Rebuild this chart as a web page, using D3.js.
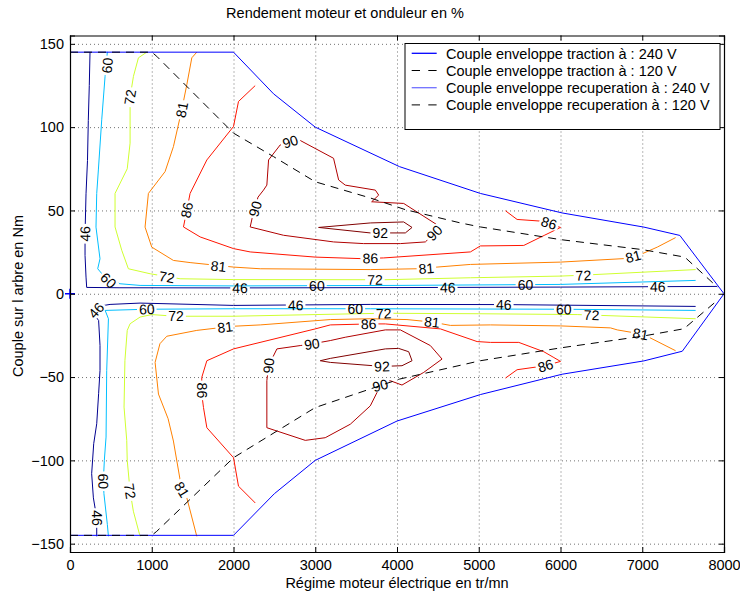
<!DOCTYPE html>
<html>
<head>
<meta charset="utf-8">
<script src="https://cdn.jsdelivr.net/npm/d3@7"></script>
<style>
  body { margin: 0; background: #fff; }
  svg { font-family: "Liberation Sans", Arial, sans-serif; }
</style>
</head>
<body>
<div id="chart"></div>
<script>
const width = 740;
const height = 594;

// axis ticks
const rpmTicks = [0, 1000, 2000, 3000, 4000, 5000, 6000, 7000, 8000];
const torqueTicks = [-150, -100, -50, 0, 50, 100, 150];

// envelopes [rpm, Nm]
const envTraction240 = [[0, 0], [0, 145], [2000, 145], [2490, 120], [3000, 100], [4030, 76.3], [5020, 60.2], [6020, 48.5], [7020, 40], [7460, 35], [8000, 0]];
const envTraction120 = [[0, 145], [1000, 145], [1061, 142.5], [2000, 96.4], [2490, 82.3], [3000, 67.2], [3673, 57.5], [4100, 50.5], [4776, 42.5], [5020, 40.1], [6000, 32.5], [7000, 26.5], [7520, 22], [7918, 4]];
const envRecup240 = [[0, 0], [0, -145], [2000, -145], [2500, -120], [3000, -100], [4000, -76.4], [5020, -60.5], [6020, -48.3], [7020, -40.3], [7490, -34.5], [8000, 0]];
const envRecup120 = [[0, -145], [1000, -145], [1061, -142.6], [2000, -98.4], [3000, -68.3], [4032, -51.2], [5020, -40.2], [6000, -32.5], [7000, -25.5], [7510, -21], [7918, -4]];
const originMark = [0, 0];

// iso-efficiency lines [rpm, Nm]
const iso46Up = [[245, 145], [236, 125], [224, 104], [214, 80], [196, 60], [184, 36], [184, 23], [196, 10], [204, 3.8], [600, 3.6], [2000, 3.5], [4000, 3.7], [6000, 4], [7918, 4.4]];
const iso60Up = [[457, 145.2], [429, 130.5], [388, 104.4], [347, 74.3], [327, 60.2], [318, 40], [367, 21], [339, 15], [408, 11], [470, 8], [612, 6], [857, 5], [2000, 4.7], [4000, 5], [6000, 5.6], [7653, 8]];
const iso72Up = [[939, 145], [837, 141.6], [776, 130.5], [735, 118], [735, 90.4], [700, 75], [551, 60.2], [551, 40.1], [633, 26.1], [714, 15], [980, 12], [1347, 9], [2000, 8.5], [3837, 8.4], [4898, 9.6], [6000, 10.6], [6204, 11], [7653, 14.5]];
const iso81Up = [[1551, 145], [1490, 141.6], [1429, 125.5], [1367, 110.4], [1265, 88.3], [1163, 73.3], [959, 60.2], [918, 40], [1000, 28], [1265, 20], [1469, 18.7], [2000, 16], [2327, 15], [3673, 14.5], [4245, 15], [4490, 16], [4898, 17.6], [6000, 19], [6776, 21.1], [7000, 24], [7184, 28], [7408, 33.7]];
const iso86Up = [[2265, 124.9], [2061, 115.4], [2000, 100.4], [1674, 80.3], [1469, 60.2], [1429, 50.2], [1388, 40.1], [1592, 34.1], [2000, 27.1], [2204, 25.1], [3000, 22], [3551, 21.1], [3837, 21.5], [4898, 25.1], [5020, 28.7], [5551, 29], [5800, 35], [6000, 39.8], [5755, 43.6], [5469, 44.6], [5327, 49.8]];
const iso90Up = [[2204, 40.1], [2240, 48], [2300, 58], [2367, 62.2], [2408, 65.2], [2429, 80.3], [2571, 89.3], [2694, 91.3], [2816, 92], [3224, 81.3], [3286, 68.3], [3367, 65.2], [3735, 62.2], [3776, 59.2], [3690, 55.2], [4082, 54.2], [4531, 40.1], [4347, 31.1], [4041, 30.1], [3592, 30.1], [3224, 31.1], [2612, 35.1], [2204, 40.1]];
const iso92Up = [[3041, 39.8], [3673, 42.5], [4082, 43.1], [4184, 39.8], [4102, 36.5], [3673, 36.5], [3041, 39.8]];

const iso46Down = [[327, -145.6], [327, -134.6], [286, -122.5], [265, -108], [290, -90], [327, -78], [350, -60], [367, -46], [367, -31], [350, -16], [285, -12], [367, -7.4], [490, -6.4], [857, -5.6], [2000, -7], [3673, -6.4], [5306, -6.5], [7653, -7.6]];
const iso60Down = [[470, -145.6], [457, -138.6], [415, -120], [408, -112.5], [420, -100], [441, -86], [449, -46], [470, -15], [430, -10], [939, -9.3], [2000, -9], [3673, -9], [6040, -9.3], [7653, -10]];
const iso72Down = [[857, -145.6], [775, -130.5], [735, -118.5], [700, -100], [694, -88], [661, -68], [672, -40], [700, -22], [735, -18], [857, -14], [1000, -12.5], [1286, -13.5], [2000, -13.5], [3000, -12.5], [3837, -11.7], [5000, -12], [6204, -12.5], [7653, -15]];
const iso81Down = [[1551, -145.6], [1429, -122.5], [1367, -117.5], [1265, -88.4], [1200, -75], [1082, -60.2], [1041, -41.2], [1100, -30], [1184, -25.5], [1551, -22], [1898, -20], [2000, -19.5], [2327, -18.7], [3184, -15.5], [3673, -15], [4122, -15.5], [4429, -17], [4653, -19], [5143, -18.7], [6000, -19.3], [6612, -20.5], [6694, -21.7], [6980, -24.1], [7082, -26.1], [7408, -34.2]];
const iso86Down = [[2265, -125.5], [2061, -115.5], [2000, -98.4], [1674, -80.4], [1633, -68.3], [1612, -60.2], [1612, -50.2], [1674, -40.2], [2000, -33.1], [3000, -21.1], [3184, -18.7], [3673, -18.1], [3857, -18.1], [4531, -21.1], [4980, -28.7], [5143, -29.2], [5490, -29.2], [5796, -34.8], [6000, -40.6], [5816, -43.2], [5469, -45.6], [5327, -50.6]];
const iso90Down = [[2408, -80.4], [2408, -52.2], [2429, -43.2], [2531, -33.1], [2816, -31.1], [2959, -30.1], [3184, -28.1], [3367, -26.1], [3857, -21.7], [4041, -21.7], [4408, -31.1], [4551, -39.2], [4327, -47.2], [4061, -54.8], [3918, -52.2], [3735, -54.5], [3755, -59.3], [3673, -67.3], [3429, -78.3], [3122, -86.4], [2878, -88], [2408, -80.4]];
const iso92Down = [[3061, -40.2], [3184, -38.8], [3857, -33.1], [4020, -32.8], [4143, -34.8], [4184, -40.2], [4061, -43.2], [3816, -43.6], [3184, -41.2], [3061, -40.2]];

// contour label anchors [rpm, Nm]
const labels46 = [[184, 36], [2080, 3.5], [4620, 3.8], [7190, 4.2], [320, -10], [2760, -6.8], [5306, -6.5], [327, -134.6]];
const labels60 = [[455, 137], [470, 8], [3020, 4.9], [5571, 5.4], [939, -9.3], [3490, -9], [6040, -9.3], [408, -112.5]];
const labels72 = [[735, 118], [1184, 10], [3730, 8.4], [6280, 11], [1298, -13.5], [3837, -11.9], [6380, -12.8], [735, -118.5]];
const labels81 = [[1367, 110.4], [1816, 16.5], [4360, 15.2], [6890, 22.5], [1898, -20], [4429, -17], [6980, -24.1], [1367, -117.5]];
const labels86 = [[1429, 50.2], [3673, 21.3], [5860, 42.5], [1612, -58], [3653, -18.1], [5816, -43.2]];
const labels90 = [[2265, 51], [2694, 91.3], [4457, 36.5], [2429, -43.2], [2959, -30.1], [3796, -55]];
const labels92 = [[3796, 36.5], [3816, -43.6]];

const levels = [46, 60, 72, 81, 86, 90, 92];
const levelColors = ["#00008f", "#00bfff", "#cfff30", "#ff8000", "#ff1500", "#b00000", "#800000"];

const contours = [
  [46, iso46Up], [46, iso46Down], [60, iso60Up], [60, iso60Down],
  [72, iso72Up], [72, iso72Down], [81, iso81Up], [81, iso81Down],
  [86, iso86Up], [86, iso86Down], [90, iso90Up], [90, iso90Down],
  [92, iso92Up], [92, iso92Down]
];
const labelSets = { 46: labels46, 60: labels60, 72: labels72, 81: labels81, 86: labels86, 90: labels90, 92: labels92 };

const legendItems = [
  { name: "Couple enveloppe traction à : 240 V", color: "#0000ff", dash: null },
  { name: "Couple enveloppe traction à : 120 V", color: "#000", dash: "8.3,8.3" },
  { name: "Couple enveloppe recuperation à : 240 V", color: "#7070ff", dash: null },
  { name: "Couple enveloppe recuperation à : 120 V", color: "#000", dash: "8.3,8.3" }
];

const margin = { left: 70, right: 724, top: 35.5, bottom: 552 };
const fontSize = 14.5;

const x = d3.scaleLinear().domain([0, 8000]).range([margin.left, margin.right]);
const y = d3.scaleLinear().domain([-155, 155]).range([margin.bottom, margin.top]);
const color = d3.scaleOrdinal().domain(levels).range(levelColors);

const svg = d3.select("#chart")
  .append("svg")
  .attr("width", width)
  .attr("height", height);

const defs = svg.append("defs");
defs.append("clipPath").attr("id", "plotClip")
  .append("rect")
  .attr("x", margin.left).attr("y", margin.top)
  .attr("width", margin.right - margin.left)
  .attr("height", margin.bottom - margin.top);

// grid
const grid = svg.append("g")
  .attr("stroke", "#000")
  .attr("stroke-width", 0.8)
  .attr("stroke-dasharray", "1,3")
  .attr("opacity", 0.7);
grid.selectAll(".gx")
  .data(rpmTicks.slice(1, -1))
  .enter().append("line")
  .attr("x1", d => x(d) + 0.5).attr("x2", d => x(d) + 0.5)
  .attr("y1", margin.top).attr("y2", margin.bottom);
grid.selectAll(".gy")
  .data(torqueTicks)
  .enter().append("line")
  .attr("y1", d => y(d) + 0.5).attr("y2", d => y(d) + 0.5)
  .attr("x1", margin.left).attr("x2", margin.right);

const line = d3.line().x(d => x(d[0])).y(d => y(d[1]));
const plot = svg.append("g").attr("clip-path", "url(#plotClip)");

// contour labels first (to size the gaps)
const labelLayer = svg.append("g")
  .attr("font-size", 14)
  .attr("text-anchor", "middle");

function labelAngle(level, px, py) {
  let best = [1, 0], bd = Infinity;
  contours.filter(c => c[0] === level).forEach(c => {
    const pts = c[1];
    for (let i = 0; i < pts.length - 1; i++) {
      const ax = x(pts[i][0]), ay = y(pts[i][1]);
      const dx = x(pts[i + 1][0]) - ax, dy = y(pts[i + 1][1]) - ay;
      const L = dx * dx + dy * dy;
      let t = L ? ((px - ax) * dx + (py - ay) * dy) / L : 0;
      t = Math.max(0, Math.min(1, t));
      const d = (ax + t * dx - px) ** 2 + (ay + t * dy - py) ** 2;
      if (d < bd) { bd = d; best = [dx, dy]; }
    }
  });
  let a = Math.atan2(best[1], best[0]) * 180 / Math.PI;
  if (a > 90) a -= 180;
  if (a <= -90) a += 180;
  return a;
}

levels.forEach(level => {
  const mask = defs.append("mask")
    .attr("id", "gap" + level)
    .attr("maskUnits", "userSpaceOnUse")
    .attr("x", 0).attr("y", 0)
    .attr("width", width).attr("height", height);
  mask.append("rect").attr("width", width).attr("height", height).attr("fill", "#fff");

  labelSets[level].forEach(p => {
    const px = x(p[0]), py = y(p[1]);
    const a = labelAngle(level, px, py);
    const t = labelLayer.append("text")
      .attr("transform", `translate(${px},${py}) rotate(${a})`)
      .attr("dy", "0.36em")
      .text(level);
    const w = t.node().getComputedTextLength();
    mask.append("rect")
      .attr("transform", `translate(${px},${py}) rotate(${a})`)
      .attr("x", -w / 2 - 2).attr("y", -5.5)
      .attr("width", w + 4).attr("height", 11)
      .attr("fill", "#000");
  });

  plot.append("g")
    .attr("mask", `url(#gap${level})`)
    .selectAll("path")
    .data(contours.filter(c => c[0] === level))
    .enter().append("path")
    .attr("d", d => line(d[1]))
    .attr("fill", "none")
    .attr("stroke", color(level))
    .attr("stroke-width", 1);
});

// envelopes
plot.append("path").attr("d", line(envTraction240))
  .attr("fill", "none").attr("stroke", "#0000ff").attr("stroke-width", 1);
plot.append("path").attr("d", line(envRecup240))
  .attr("fill", "none").attr("stroke", "#0000ff").attr("stroke-width", 1);
plot.append("path").attr("d", line(envTraction120))
  .attr("fill", "none").attr("stroke", "#000").attr("stroke-width", 1).attr("stroke-dasharray", "8,6");
plot.append("path").attr("d", line(envRecup120))
  .attr("fill", "none").attr("stroke", "#000").attr("stroke-width", 1).attr("stroke-dasharray", "8,6");

labelLayer.raise();

// origin marker
svg.append("path")
  .attr("transform", `translate(${x(originMark[0])},${y(originMark[1])})`)
  .attr("d", "M-5,0H5M0,-5V5")
  .attr("stroke", "#0000ff")
  .attr("stroke-width", 1.5);

// axes, inward ticks on all four sides
const tickFont = g => g.attr("font-family", null).attr("font-size", fontSize);

svg.append("g")
  .attr("transform", `translate(0,${margin.bottom})`)
  .call(d3.axisBottom(x).tickValues(rpmTicks).tickSize(-5).tickPadding(8).tickFormat(d3.format("d")))
  .call(tickFont)
  .call(g => g.selectAll("text").attr("fill", "#000"));

svg.append("g")
  .attr("transform", `translate(0,${margin.top})`)
  .call(d3.axisTop(x).tickValues(rpmTicks).tickSize(-5).tickFormat(""));

svg.append("g")
  .attr("transform", `translate(${margin.left},0)`)
  .call(d3.axisLeft(y).tickValues(torqueTicks).tickSize(-5).tickPadding(6)
    .tickFormat(d => d < 0 ? "\u2212" + Math.abs(d) : d))
  .call(tickFont)
  .call(g => g.selectAll("text").attr("fill", "#000"));

svg.append("g")
  .attr("transform", `translate(${margin.right},0)`)
  .call(d3.axisRight(y).tickValues(torqueTicks).tickSize(-5).tickFormat(""));

svg.selectAll(".domain").attr("stroke", "#000").attr("stroke-width", 1.2);

// titles
svg.append("text")
  .attr("x", 345).attr("y", 18)
  .attr("text-anchor", "middle")
  .attr("font-size", fontSize)
  .text("Rendement moteur et onduleur en %");

svg.append("text")
  .attr("x", 397).attr("y", 588)
  .attr("text-anchor", "middle")
  .attr("font-size", fontSize)
  .text("Régime moteur électrique en tr/mn");

svg.append("text")
  .attr("transform", "translate(23,296) rotate(-90)")
  .attr("text-anchor", "middle")
  .attr("font-size", fontSize)
  .text("Couple sur l arbre en Nm");

// legend
const legend = svg.append("g").attr("transform", "translate(405,43.5)");
legend.append("rect")
  .attr("width", 315).attr("height", 86)
  .attr("fill", "#fff").attr("stroke", "#000").attr("stroke-width", 1);

const rows = legend.selectAll(".row")
  .data(legendItems)
  .enter().append("g")
  .attr("transform", (d, i) => `translate(0,${9.8 + i * 17.2})`);
rows.append("line")
  .attr("x1", 6.7).attr("x2", 31.7)
  .attr("stroke", d => d.color)
  .attr("stroke-width", d => d.dash ? 1 : 1.3)
  .attr("stroke-dasharray", d => d.dash);
rows.append("text")
  .attr("x", 41).attr("dy", "0.36em")
  .attr("font-size", fontSize)
  .text(d => d.name);
</script>
</body>
</html>
